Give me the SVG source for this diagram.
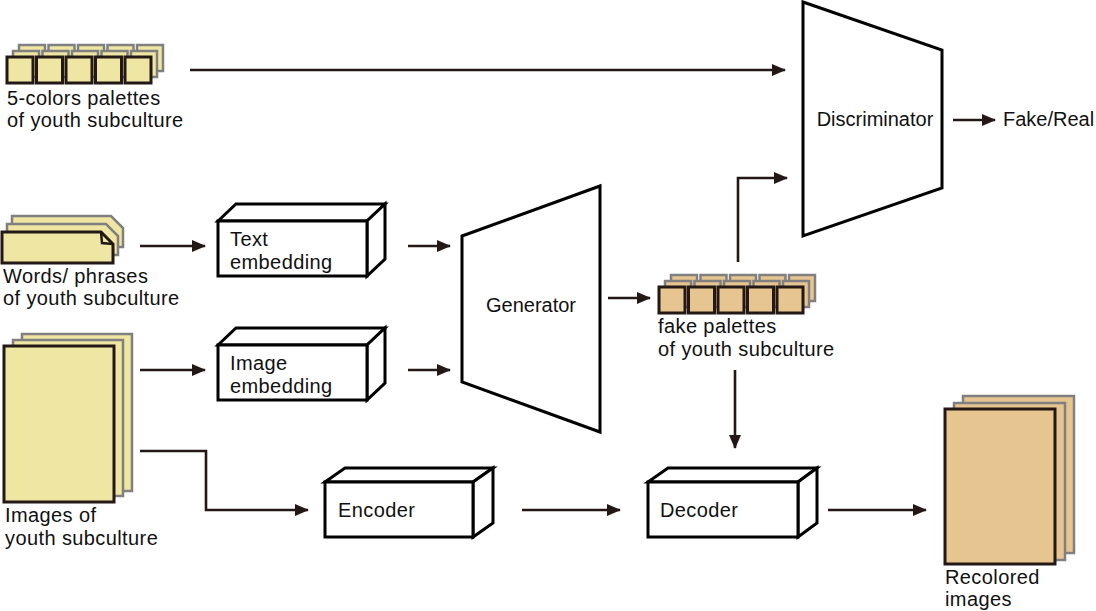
<svg xmlns="http://www.w3.org/2000/svg" width="1096" height="611" viewBox="0 0 1096 611">
<style>
text{font-family:"Liberation Sans",Arial,sans-serif;font-size:20px;fill:#111}
.lbl{letter-spacing:0.4px}
.box{fill:#fff;stroke:#000;stroke-width:3;stroke-linejoin:miter}
.con{fill:none;stroke:#231815;stroke-width:2.6}
.fy{fill:#EFE6A3;stroke:#231815;stroke-width:3}
.by{fill:#EFE6A3;stroke:#808080;stroke-width:2.5}
.fp{fill:#E6C591;stroke:#231815;stroke-width:3}
.bp{fill:#E6C591;stroke:#808080;stroke-width:2.5}
</style>
<defs>
<marker id="ah" markerUnits="userSpaceOnUse" markerWidth="14" markerHeight="12" refX="13" refY="6" orient="auto">
<path d="M0,0 L14,6 L0,12 Z" fill="#231815"/>
</marker>
<g id="sq5b">
<rect x="0" y="0" width="26" height="26"/><rect x="29.5" y="0" width="26" height="26"/><rect x="59" y="0" width="26" height="26"/><rect x="88.5" y="0" width="26" height="26"/><rect x="118" y="0" width="26" height="26"/>
</g>
</defs>

<g id="real-palettes">
<use href="#sq5b" x="19" y="45" class="by"/>
<use href="#sq5b" x="13" y="51" class="by"/>
<use href="#sq5b" x="7" y="57" class="fy"/>
<text class="lbl" x="7" y="105">5-colors palettes</text>
<text class="lbl" x="7" y="127">of youth subculture</text>
</g>

<g id="words">
<path class="by" d="M12,216 H111 L123,228 V247 H12 Z"/>
<path class="by" d="M7,224 H106 L118,236 V255 H7 Z"/>
<path class="fy" d="M2,232 H101 L113,244 V263 H2 Z"/>
<path d="M101,232 L102,243 L113,244" fill="none" stroke="#231815" stroke-width="2.5"/>
<text class="lbl" x="3" y="283">Words/ phrases</text>
<text class="lbl" x="3" y="305">of youth subculture</text>
</g>

<g id="images">
<rect class="by" x="22" y="334" width="110" height="157"/>
<rect class="by" x="13" y="340" width="110" height="156"/>
<rect class="fy" x="4" y="346" width="110" height="156"/>
<text class="lbl" x="5" y="522">Images of</text>
<text class="lbl" x="5" y="545">youth subculture</text>
</g>

<g id="text-embedding">
<path class="box" d="M218,221 L236,204 H385 L367,221 Z"/>
<path class="box" d="M367,221 L385,204 V259 L367,276 Z"/>
<rect class="box" x="218" y="221" width="149" height="55"/>
<text class="lbl" x="230" y="246">Text</text>
<text class="lbl" x="230" y="269">embedding</text>
</g>

<g id="image-embedding">
<path class="box" d="M218,345 L236,328 H385 L367,345 Z"/>
<path class="box" d="M367,345 L385,328 V383 L367,400 Z"/>
<rect class="box" x="218" y="345" width="149" height="55"/>
<text class="lbl" x="230" y="370">Image</text>
<text class="lbl" x="230" y="393">embedding</text>
</g>

<g id="generator">
<path class="box" d="M462,236 L600,186 V432 L462,382 Z"/>
<text x="531" y="312" text-anchor="middle">Generator</text>
</g>

<g id="discriminator">
<path class="box" d="M803,2 L942,50 V188 L803,236 Z"/>
<text x="875" y="126" text-anchor="middle">Discriminator</text>
</g>

<g id="fake-real">
<text x="1003" y="126">Fake/Real</text>
</g>

<g id="fake-palettes">
<use href="#sq5b" x="671" y="275" class="bp"/>
<use href="#sq5b" x="665" y="281" class="bp"/>
<use href="#sq5b" x="659" y="287" class="fp"/>
<text class="lbl" x="658" y="333">fake palettes</text>
<text class="lbl" x="658" y="356">of youth subculture</text>
</g>

<g id="encoder">
<path class="box" d="M325,482 L345,468 H493 L473,482 Z"/>
<path class="box" d="M473,482 L493,468 V523 L473,537 Z"/>
<rect class="box" x="325" y="482" width="148" height="55"/>
<text class="lbl" x="338" y="517">Encoder</text>
</g>

<g id="decoder">
<path class="box" d="M648,482 L668,468 H817 L798,482 Z"/>
<path class="box" d="M798,482 L817,468 V523 L798,537 Z"/>
<rect class="box" x="648" y="482" width="150" height="55"/>
<text class="lbl" x="660" y="517">Decoder</text>
</g>

<g id="recolored">
<rect class="bp" x="963" y="396" width="111" height="157"/>
<rect class="bp" x="954" y="403" width="111" height="157"/>
<rect class="fp" x="945" y="409" width="110" height="155"/>
<text class="lbl" x="945" y="584">Recolored</text>
<text class="lbl" x="945" y="606">images</text>
</g>

<g id="connectors">
<path class="con" marker-end="url(#ah)" d="M190,70 H785"/>
<path class="con" marker-end="url(#ah)" d="M953,120 H995"/>
<path class="con" marker-end="url(#ah)" d="M140,246 H205"/>
<path class="con" marker-end="url(#ah)" d="M140,370 H205"/>
<path class="con" marker-end="url(#ah)" d="M408,246 H450"/>
<path class="con" marker-end="url(#ah)" d="M408,370 H450"/>
<path class="con" marker-end="url(#ah)" d="M608,298 H650"/>
<path class="con" marker-end="url(#ah)" d="M738,262 V178 H787"/>
<path class="con" marker-end="url(#ah)" d="M735,370 V448"/>
<path class="con" marker-end="url(#ah)" d="M140,451 H206 V510 H308"/>
<path class="con" marker-end="url(#ah)" d="M522,510 H620"/>
<path class="con" marker-end="url(#ah)" d="M828,510 H926"/>
</g>
</svg>
